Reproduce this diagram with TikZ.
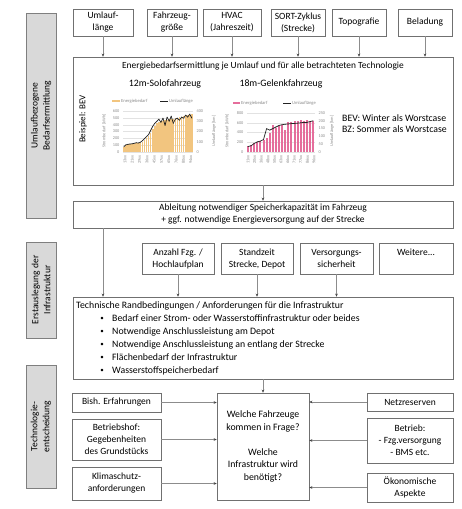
\documentclass[tikz,border=0pt]{standalone}
\usepackage{fontspec}
\setmainfont{Carlito}
\usetikzlibrary{arrows.meta}
\definecolor{boxc}{HTML}{707070}
\definecolor{linec}{HTML}{8C8C8C}
\definecolor{sidefill}{HTML}{D9D9D9}
\definecolor{sidec}{HTML}{7F7F7F}
\definecolor{tickc}{HTML}{8C8C8C}
\definecolor{gridc}{HTML}{E2E2E2}
\definecolor{orangebar}{HTML}{F2C57F}
\definecolor{pinkbar}{HTML}{E56E9C}
\definecolor{linedark}{HTML}{222222}
\begin{document}
\begin{tikzpicture}[x=1pt,y=-1pt,
  box/.style={draw=boxc, line width=0.6pt, fill=white, align=center, inner sep=1pt,
    font=\fontsize{9.5}{12}\selectfont},
  side/.style={draw=sidec, fill=sidefill, line width=0.6pt, rotate=90, align=center,
    minimum height=30pt, inner sep=1pt, font=\fontsize{9.5}{12}\selectfont},
  arr/.style={draw=linec, line width=0.6pt, -{Stealth[length=3pt,width=2.6pt,color=black!75]}},
  txt/.style={inner sep=0pt, font=\fontsize{9.8}{12.8}\selectfont},
  tick/.style={font=\fontsize{4.3}{5}\selectfont, text=tickc, inner sep=0.4pt},
  leg/.style={font=\fontsize{4.6}{5.5}\selectfont, text=tickc, inner sep=0.4pt, anchor=west},
  grid/.style={draw=gridc, line width=0.3pt},
  seriesline/.style={draw=linedark, line width=0.7pt, line join=round, line cap=round}
]
\useasboundingbox (0,0) rectangle (462,509);
\fill[white] (0,0) rectangle (462,509);

% ---- phase labels on the left
\node[side, minimum width=205pt] (ph1) at (41,115.5) {Umlaufbezogene\\Bedarfsermittlung};
\node[side, minimum width=96pt] (ph2) at (41,290) {Erstauslegung der\\Infrastruktur};
\node[side, minimum width=123pt] (ph3) at (41,426.5) {Technologie-\\entscheidung};

% ---- influencing factors (top row)
\node[box, minimum width=60pt, minimum height=27pt] (u1) at (103,22.5) {Umlauf-\\länge};
\node[box, minimum width=50pt, minimum height=27pt] (u2) at (172,22.5) {Fahrzeug-\\größe};
\node[box, minimum width=58pt, minimum height=27pt] (u3) at (232,22.5) {HVAC\\(Jahreszeit)};
\node[box, minimum width=54pt, minimum height=27pt] (u4) at (298,22.5) {SORT-Zyklus\\(Strecke)};
\node[box, minimum width=54pt, minimum height=27pt] (u5) at (359,22.5) {Topografie};
\node[box, minimum width=54pt, minimum height=27pt] (u6) at (425,22.5) {Beladung};

% ---- energy demand box
\node[box, minimum width=380pt, minimum height=128pt] (energy) at (263,121) {};
\foreach \n in {u1,u2,u3,u4,u5,u6}
  \draw[arr] (\n.south) -- (\n.south |- energy.north);

\node[txt, font=\fontsize{9.4}{12}\selectfont] (etitle) at (263,66) {Energiebedarfsermittlung je Umlauf und für alle betrachteten Technologie};
\node[txt] (solo) at (165,84) {12m-Solofahrzeug};
\node[txt] (gelenk) at (281,84) {18m-Gelenkfahrzeug};
\node[txt, rotate=90, font=\fontsize{9}{11}\selectfont] (bsp) at (83,119) {Beispiel: BEV};
\node[txt, anchor=west] (bev) at (342,118) {BEV: Winter als Worstcase};
\node[txt, anchor=west] (bz) at (342,129) {BZ: Sommer als Worstcase};

% ---- chart 1: 12 m solo bus (y: 0 at 152, 600 kWh at 111)
\foreach \v in {0,100,...,600}{
  \draw[grid] (123,{152-\v*0.068333}) -- (193,{152-\v*0.068333});
  \node[tick, anchor=east] at (120,{152-\v*0.068333}) {\v};
}
\foreach \v in {0,100,...,400}
  \node[tick, anchor=west] at (196,{152-\v*0.1025}) {\v};
\foreach \v [count=\i] in {80,100,110,110,115,120,125,130,135,150,170,200,240,280,330,380,420,440,450,460,470,470,480,490,490,500,500,510,510,520,530,540,540,550}
  \fill[orangebar] ({123+(\i-1)*2.06},152) rectangle ++(1.7,{-\v*0.068333});
\foreach \v [count=\i, remember=\v as \pv (initially 0)] in {50,70,75,78,80,85,90,88,95,110,130,150,170,210,250,280,300,320,290,330,260,340,300,350,280,320,330,310,340,330,360,340,370,330}{
  \ifnum\i>1
    \draw[seriesline] ({123+(\i-2)*2.06+0.85},{152-\pv*0.1025}) -- ({123+(\i-1)*2.06+0.85},{152-\v*0.1025});
  \fi
}
\foreach \l [count=\i] in {13xx,21xx,29xx,36xx,45xx,57xx,65xx,76xx,80xx,94xx}
  \node[tick, rotate=90, anchor=east] at ({125+(\i-1)*7.3},155) {\l};
\node[tick, rotate=90] (ax1l) at (104,131) {Strombedarf [kWh]};
\node[tick, rotate=90] (ax1r) at (214,131) {Umlauflänge [km]};
\fill[orangebar] (112,99.8) rectangle (120,102.2);
\node[leg] (lg1a) at (120.5,101) {Energiebedarf};
\draw[linedark, line width=0.8pt] (160,101) -- (168,101);
\node[leg] (lg1b) at (168.5,101) {Umlauflänge};

% ---- chart 2: 18 m articulated bus (y: 0 at 152, 800 kWh at 113)
\foreach \v in {0,200,...,800}{
  \draw[grid] (247,{152-\v*0.04875}) -- (315,{152-\v*0.04875});
  \node[tick, anchor=east] at (244,{152-\v*0.04875}) {\v};
}
\foreach \v in {0,50,...,250}
  \node[tick, anchor=west] at (318,{152-\v*0.156}) {\v};
\foreach \v [count=\i] in {130,150,180,200,220,250,280,400,560,500,540,560,450,620,620,630,640,650,640,650,620,640}
  \fill[pinkbar] ({247+(\i-1)*3.1},152) rectangle ++(2,{-\v*0.04875});
\foreach \v [count=\i, remember=\v as \pv (initially 0)] in {35,40,55,65,70,80,150,140,150,160,170,175,178,180,182,183,185,187,190,190,195,200}{
  \ifnum\i>1
    \draw[seriesline] ({247+(\i-2)*3.1+1},{152-\pv*0.156}) -- ({247+(\i-1)*3.1+1},{152-\v*0.156});
  \fi
}
\foreach \l [count=\i] in {11xx,20xx,36xx,48xx,50xx,63xx,66xx,71xx,77xx,86xx,96xx}
  \node[tick, rotate=90, anchor=east] at ({248+(\i-1)*6.6},155) {\l};
\node[tick, rotate=90] (ax2l) at (227,131) {Strombedarf [kWh]};
\node[tick, rotate=90] (ax2r) at (332,131) {Umlauflänge [km]};
\fill[pinkbar] (233,101.8) rectangle (240,104.2);
\node[leg] (lg2a) at (240.5,103) {Energiebedarf};
\draw[linedark, line width=0.8pt] (283,103) -- (291,103);
\node[leg] (lg2b) at (291.5,103) {Umlauflänge};

% ---- storage capacity
\node[box, minimum width=380pt, minimum height=27pt] (abl) at (263,214.5)
  {Ableitung notwendiger Speicherkapazität im Fahrzeug\\+ ggf. notwendige Energieversorgung auf der Strecke};
\draw[arr] (energy.south) -- (abl.north);

% ---- boundary conditions (middle row)
\node[box, minimum width=72pt, minimum height=31pt] (m1) at (178,258.5) {Anzahl Fzg. /\\Hochlaufplan};
\node[box, minimum width=72pt, minimum height=31pt] (m2) at (257,258.5) {Standzeit\\Strecke, Depot};
\node[box, minimum width=73pt, minimum height=31pt] (m3) at (336.5,258.5) {Versorgungs-\\sicherheit};
\node[box, minimum width=74pt, minimum height=31pt] (m4) at (416,258.5) {Weitere...\\\phantom{x}};

% ---- infrastructure requirements
\node[box, minimum width=380pt, minimum height=82pt] (tech) at (263,338) {};
\draw[arr] (abl.south -| u1.south) -- (tech.north -| u1.south);
\foreach \n in {m1,m2,m3}
  \draw[arr] (\n.south) -- (\n.south |- tech.north);
\node[txt, anchor=base west] (t0) at (76,308.5) {Technische Randbedingungen / Anforderungen für die Infrastruktur};
\foreach \y/\t [count=\i] in {321/Bedarf einer Strom- oder Wasserstoffinfrastruktur oder beides,
    334/Notwendige Anschlussleistung am Depot,
    347/Notwendige Anschlussleistung an entlang der Strecke,
    360/Flächenbedarf der Infrastruktur,
    373/Wasserstoffspeicherbedarf}{
  \node[txt, anchor=base, font=\fontsize{7}{8}\selectfont] (b\i) at (102,\y-0.6) {•};
  \node[txt, anchor=base west] (t\i) at (112,\y) {\t};
}

% ---- technology decision
\node[box, minimum width=92pt, minimum height=107pt, font=\fontsize{9.8}{12.8}\selectfont] (q) at (263,446.5)
  {Welche Fahrzeuge\\kommen in Frage?\\[12pt]Welche\\Infrastruktur wird\\benötigt?};
\draw[arr] (tech.south) -- (q.north);

\node[box, minimum width=89pt, minimum height=19pt] (l1) at (116.5,402.5) {Bish. Erfahrungen};
\node[box, minimum width=89pt, minimum height=41pt] (l2) at (116.5,439.5) {Betriebshof:\\Gegebenheiten\\des Grundstücks};
\node[box, minimum width=89pt, minimum height=33pt] (l3) at (116.5,483.5) {Klimaschutz-\\anforderungen};
\node[box, minimum width=86pt, minimum height=18pt] (r1) at (410,402) {Netzreserven};
\node[box, minimum width=86pt, minimum height=45pt] (r2) at (410,440.5) {Betrieb:\\- Fzg.versorgung\\- BMS etc.};
\node[box, minimum width=86pt, minimum height=29pt] (r3) at (410,487.5) {Ökonomische\\Aspekte};
\foreach \n in {l1,l2,l3}
  \draw[arr] (\n.east) -- (\n.east -| q.west);
\foreach \n in {r1,r2,r3}
  \draw[arr] (\n.west) -- (\n.west -| q.east);
\end{tikzpicture}
\end{document}
